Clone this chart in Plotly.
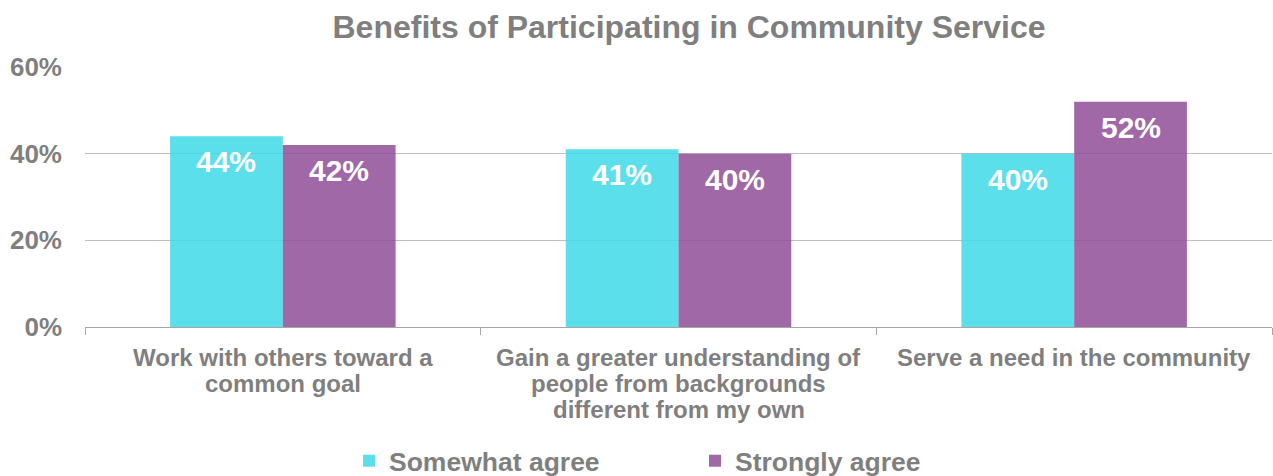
import plotly.graph_objects as go

categories = [
    "Work with others toward a<br>common goal",
    "Gain a greater understanding of<br>people from backgrounds<br>different from my own",
    "Serve a need in the community",
]
somewhat_agree = [0.44, 0.41, 0.40]
strongly_agree = [0.42, 0.40, 0.52]
y_ticks = [0, 0.2, 0.4, 0.6]
y_tick_labels = ["0%", "20%", "40%", "60%"]

GRAY = "#7f7f7f"
FONT = "Liberation Sans, Arial, sans-serif"

W, H = 1273, 476
ML, MR, MT, MB = 85, 1, 67, 149
BARGAP = 0.43

series = [
    ("Somewhat agree", somewhat_agree, "rgba(62,217,230,0.85)"),
    ("Strongly agree", strongly_agree, "rgba(143,77,150,0.85)"),
]

fig = go.Figure()
for name, vals, color in series:
    fig.add_trace(go.Bar(
        name=name,
        x=categories,
        y=vals,
        marker=dict(color=color, line=dict(width=0)),
        hovertemplate="%{y:.0%}<extra>" + name + "</extra>",
    ))

# value labels inside the top of each bar
plot_w = W - ML - MR
bar_w = plot_w / len(categories) * (1 - BARGAP) / len(series)
annotations = []
for si, (name, vals, _) in enumerate(series):
    shift = (si - (len(series) - 1) / 2) * bar_w
    for cat, v in zip(categories, vals):
        annotations.append(dict(
            x=cat, y=v, xref="x", yref="y",
            xshift=shift, yshift=-7,
            yanchor="top", xanchor="center",
            text=f"{v:.0%}", showarrow=False,
            font=dict(family=FONT, size=30, color="white", weight="bold"),
        ))

# category labels under the axis, one line at a time for tighter spacing
for cat in categories:
    for li, line in enumerate(cat.split("<br>")):
        annotations.append(dict(
            x=cat, y=0, xref="x", yref="paper",
            yshift=-(30 + 26 * li),
            yanchor="middle", xanchor="center",
            text=line, showarrow=False,
            font=dict(family=FONT, size=24, color=GRAY, weight="bold"),
        ))

fig.update_layout(
    width=W,
    height=H,
    barmode="group",
    bargap=BARGAP,
    bargroupgap=0,
    paper_bgcolor="white",
    plot_bgcolor="white",
    margin=dict(l=ML, r=MR, t=MT, b=MB, autoexpand=False),
    font=dict(family=FONT, color=GRAY, weight="bold"),
    title=dict(
        text="Benefits of Participating in Community Service",
        x=689 / W,
        xanchor="center",
        y=1 - 27 / H,
        yanchor="middle",
        font=dict(family=FONT, size=32, color=GRAY, weight="bold"),
    ),
    showlegend=True,
    legend=dict(
        orientation="h",
        xref="container",
        yref="container",
        x=349 / W,
        xanchor="left",
        y=(H - 461) / H,
        yanchor="middle",
        font=dict(family=FONT, size=26.5, color=GRAY, weight="bold"),
        entrywidth=301,
        entrywidthmode="pixels",
        traceorder="normal",
    ),
    annotations=annotations,
    xaxis=dict(
        showline=True,
        linecolor="#a6a6a6",
        linewidth=1,
        ticks="outside",
        tickson="boundaries",
        ticklen=7,
        tickcolor="#a6a6a6",
        showticklabels=False,
        showgrid=False,
    ),
    yaxis=dict(
        range=[0, 0.6],
        tickvals=y_ticks,
        ticktext=y_tick_labels,
        showgrid=True,
        gridcolor="#bfbfbf",
        gridwidth=1,
        zeroline=False,
        showline=False,
        ticks="",
        ticklabelstandoff=22,
        tickfont=dict(family=FONT, size=26, color=GRAY, weight="bold"),
    ),
)

fig.write_html("out.html")
